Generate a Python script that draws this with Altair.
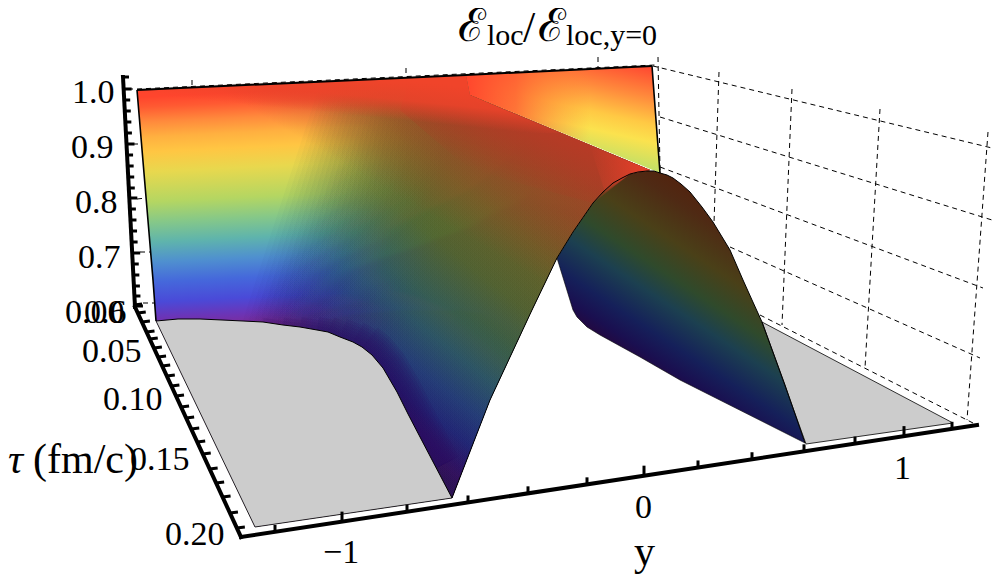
import altair as alt
import pandas as pd

# ---- outlines (picture-plane units) ----
top_edge = [(137, 90), (466, 75), (652, 66)]
left_edge = [(137, 90), (146, 197), (153, 280), (156, 321)]
right_edge = [(652, 66), (656, 120), (660, 173)]
contour_left = [(452, 498), (420, 437), (408, 414), (397, 392), (390, 380), (383, 368), (372, 355), (362, 347),
                (353, 342), (340, 337), (328, 332), (317, 330), (300, 327), (283, 325), (263, 322), (243, 321),
                (222, 320), (200, 319), (178, 319), (156, 321)]
contour_purple = [(436, 468), (420, 437), (408, 414), (397, 392), (390, 380), (383, 368), (372, 355), (362, 347),
                  (353, 342), (340, 337), (328, 332), (317, 330), (300, 327), (283, 325), (263, 322)]
rim_widths = [50, 44, 38, 32, 26, 20, 14, 8]
rim_lengths = [8, 9, 10, 11, 12, 13, 14, 15]
arch_left = [(452, 498), (490, 400), (532, 310), (557, 258)]
arch_top = [(557, 258), (573, 232), (593, 203), (603, 192), (613, 183), (622, 178), (630, 174), (638, 172),
            (647, 171), (654, 171), (660, 173)]
arch_right = [(660, 173), (667, 175), (673, 178), (681, 184), (690, 192), (702, 207), (713, 222), (730, 250),
              (743, 280), (752, 300), (762, 322), (785, 385), (805, 443)]
contour_right = [(805, 443), (680, 380), (640, 357), (600, 335), (587, 327), (577, 317), (573, 310), (557, 258)]
floor_left = [(156, 321), (255, 527), (452, 498)]
floor_right = [(762, 322), (806, 444), (953, 423)]

rainbow_stops = [(0.03, "#ff452d"), (0.07, "#ff5a32"), (0.13, "#ff8a3c"), (0.19, "#ffb040"), (0.25, "#ffc643"),
                 (0.33, "#e8d84e"), (0.45, "#b4d662"), (0.53, "#86c888"), (0.61, "#5fb4ac"), (0.69, "#4f90cf"),
                 (0.77, "#4568db"), (0.85, "#4a4ad8"), (0.91, "#6a35b8"), (0.96, "#7f2a96"), (1.0, "#7f2a90")]
bump_stops = [(0.0, "#2a1058"), (0.03, "#2f1060"), (0.12, "#1f2a78"), (0.2, "#22407a"), (0.3, "#2a5868"), (0.38, "#3a6050"),
              (0.52, "#55652f"), (0.68, "#6a6425"), (0.79, "#7a5c22"), (0.9, "#8a4f20"), (1.0, "#a83d22")]
under_stops = [(0.0, "#24083f"), (0.08, "#1a0f50"), (0.2, "#15205a"), (0.38, "#1c4050"), (0.52, "#2f4a2c"),
               (0.7, "#4a4018"), (0.9, "#4f2a14"), (1.0, "#52240f")]
wedge_stops = [(0.0, "#ff4530"), (0.3, "#ff8a3c"), (0.55, "#ffc944"), (0.72, "#fbe24e"), (1.0, "#bfe068")]

z_ticks_y = [77, 89, 100, 111, 122, 133, 144, 155, 166, 177, 188, 198, 209, 220, 231, 242, 253, 264, 275, 286, 296, 306]
z_major_y = [89, 144, 198, 253, 306]
tau_ticks_y = [305, 313, 322, 332, 339, 348, 357, 366, 376, 386, 396, 407, 418, 429, 442, 454, 469, 483, 497, 513, 528]
y_ticks_x = [275, 342, 407, 468, 528, 587, 644, 698, 752, 804, 855, 904, 952]
y_major_x = [342, 644, 904]

grid_lines = [
    [(653, 66), (992, 148)],
    [(660, 117), (992, 220)],
    [(660, 167), (983, 288)],
    [(730, 247), (980, 358)],
    [(760, 315), (973, 423)],
    [(719, 72), (714, 223)],
    [(792, 89), (782, 325)],
    [(880, 109), (865, 368)],
    [(988, 132), (967, 420)],
    [(658, 57), (660, 170)],
    [(192, 80), (192, 87)],
    [(406, 68), (406, 78)],
    [(598, 57), (598, 68)],
    [(137, 89), (655, 65)],
    [(128, 89), (137, 89)],
    [(133, 144), (143, 144)],
    [(137, 199), (146, 198)],
    [(140, 252), (150, 252)],
    [(143, 303), (154, 303)],
]
axis_lines = [[(123, 77), (135, 307)], [(135, 307), (241, 537)], [(241, 537), (977, 425)]]

serif = "Liberation Serif"
texts = [
    ("1.0", 72, 103, 34, "normal"), ("0.9", 71, 158, 34, "normal"), ("0.8", 75, 213, 34, "normal"),
    ("0.7", 78, 268, 34, "normal"), ("0.00", 65, 323, 34, "normal"), ("0.6", 84, 323, 34, "normal"),
    ("0.05", 82, 362, 34, "normal"), ("0.10", 103, 410, 34, "normal"), ("0.15", 130, 470, 34, "normal"),
    ("0.20", 165, 545, 34, "normal"),
    ("\u22121", 323, 563, 34, "normal"), ("0", 635, 518, 34, "normal"), ("1", 894, 479, 34, "normal"),
    ("\u03c4", 8, 473, 42, "italic"), ("(fm/c)", 33, 473, 42, "normal"), ("y", 634, 565, 42, "normal"),
    ("\u2130", 458, 41, 46, "normal"), ("loc", 487, 45, 30, "normal"), ("/", 523, 42, 44, "normal"),
    ("\u2130", 538, 41, 46, "normal"), ("loc,y=0", 566, 45, 30, "normal"),
]

sx = alt.Scale(domain=[8, 992], nice=False, zero=False)
sy = alt.Scale(domain=[575, 8], nice=False, zero=False)
X = lambda f="x": alt.X(f, type="quantitative", scale=sx, axis=None)
Y = lambda f="y": alt.Y(f, type="quantitative", scale=sy, axis=None)


def grad(points, a, b, stops):
    xs, ys = zip(*points)
    x0, y0 = min(xs), min(ys)
    w, h = max(xs) - x0, max(ys) - y0
    vx, vy = b[0] - a[0], b[1] - a[1]
    gu, gv = vx / h, vy / w
    au, av = (a[0] - x0) / w, (a[1] - y0) / h
    bu, bv = (b[0] - x0) / w, (b[1] - y0) / h
    s = ((bu - au) * gu + (bv - av) * gv) / (gu * gu + gv * gv)
    return alt.LinearGradient(
        gradient="linear", x1=au, y1=av, x2=au + s * gu, y2=av + s * gv,
        stops=[alt.GradientStop(color=c, offset=o) for o, c in stops],
    )


def table(points):
    return pd.DataFrame({"x": [p[0] for p in points], "y": [p[1] for p in points], "i": range(len(points))})


def poly(points, fill, opacity=1.0):
    return alt.Chart(table(points)).mark_line(fill=fill, strokeWidth=0, opacity=opacity).encode(
        x=X(), y=Y(), order=alt.Order("i:Q"))


def path(points, width=1.0, color="black", opacity=1.0):
    return alt.Chart(table(points)).mark_line(stroke=color, strokeWidth=width, opacity=opacity).encode(
        x=X(), y=Y(), order=alt.Order("i:Q"))


def segments(lines, width, dash=None, cap="butt"):
    df = pd.DataFrame([{"x": l[0][0], "y": l[0][1], "x2": l[1][0], "y2": l[1][1]} for l in lines])
    kw = {"strokeDash": dash} if dash else {}
    return alt.Chart(df).mark_rule(color="black", strokeWidth=width, strokeCap=cap, **kw).encode(
        x=X(), y=Y(), x2="x2:Q", y2="y2:Q")


layers = []
# dashed box
layers.append(segments(grid_lines, 1, dash=[5, 4]))

# underside of the arch
under = arch_top + arch_right[1:] + contour_right[1:]
layers.append(poly(under, grad(under, (640, 365), (736, 220), under_stops)))

# yellow wedge behind the ridge
wedge = [(466, 75), (652, 66), (656, 120), (660, 173), (470, 95)]
layers.append(poly(wedge, grad(wedge, (652, 66), (630, 167), wedge_stops)))
layers.append(poly(wedge, grad(wedge, (466, 90), (590, 90),
                               [(0, "rgba(255,70,45,1)"), (0.4, "rgba(255,80,48,0.75)"), (1, "rgba(255,120,50,0)")])))

# main face: bright sheet, shaded towards the ridge
main = [(137, 90), (466, 75), (470, 95), (650, 170)] + arch_top[-3::-1] + arch_left[::-1][1:] + [(255, 527), (156, 321), (153, 280), (146, 197)]
layers.append(poly(main, grad(main, (300, 82), (312, 332), rainbow_stops)))
layers.append(poly(main, grad(main, (240, 330), (395, 422),
                              [(0, "rgba(0,0,0,0)"), (1, "rgba(0,0,0,0.55)")])))
# the ridge sheet fades in across the face in many thin veils
right_of_main = [(470, 95), (650, 170)] + arch_top[-3::-1] + arch_left[::-1][1:]
for k in range(32):
    tx = 320 + k * 4.6
    pts = [(tx, 92 - (tx - 137) * 15 / 329)] + right_of_main + [(230 + k * 6, 360)]
    layers.append(poly(pts, grad(pts, (445, 480), (664, 205), bump_stops), opacity=0.04 + 0.1 * k / 31))
# purple rim along the left foot of the ridge
for w, n in zip(rim_widths, rim_lengths):
    layers.append(path(contour_purple[:n], w, "#2a0f60", 0.14))
# warm brick tone over the upper part of the ridge slope
warm = [(200, 85), (466, 76)] + right_of_main + [(230, 360)]
layers.append(poly(warm, grad(warm, (320, 150), (385, 40),
                              [(0, "rgba(168,63,40,0)"), (1, "rgba(168,63,40,0.85)")])))
# brick-red band under the ridge
cap = [(466, 75), (470, 95), (650, 170), (630, 174), (593, 203), (470, 170), (400, 110), (410, 78)]
layers.append(poly(cap, grad(cap, (560, 133), (533, 195),
                             [(0, "rgba(184,58,38,0.95)"), (1, "rgba(170,60,35,0)")])))
peak = [(590, 146), (650, 170), (630, 174), (605, 192)]
layers.append(poly(peak, grad(peak, (590, 170), (645, 170),
                              [(0, "rgba(232,64,42,0)"), (1, "rgba(232,64,42,0.9)")])))
top_band = [(137, 90), (466, 75), (470, 95), (560, 133), (137, 135)]
layers.append(poly(top_band, grad(top_band, (300, 110), (304, 70),
                                  [(0, "rgba(235,68,42,0)"), (0.5, "rgba(238,68,42,0.85)"), (1, "rgba(240,68,42,1)")])))

# floors (drawn over the feet of the veils)
layers += [poly(contour_left + floor_left[:2], "#cccccc"), poly(floor_right, "#cccccc")]
layers += [path(floor_left, 0.8), path(floor_right + floor_right[:1], 0.8)]

# outlines
layers += [path(top_edge, 2), path(left_edge, 1.6), path(right_edge, 1.6), path(contour_left, 1),
           path(arch_left + arch_top + arch_right, 1), path(contour_right, 0.6)]

# axes
layers.append(segments(axis_lines, 4, cap="square"))
z_seg = [[(123 + (v - 77) * 12 / 230, v), (123 + (v - 77) * 12 / 230 + (8 if v in z_major_y else 6), v)] for v in z_ticks_y]
tau_seg = [[(135 + (v - 307) * 106 / 230, v), (135 + (v - 307) * 106 / 230 + 8, v - 1)] for v in tau_ticks_y]
y_seg = [[(v, 537 - (v - 241) * 112 / 736), (v, 537 - (v - 241) * 112 / 736 - (10 if v in y_major_x else 7))] for v in y_ticks_x]
layers.append(segments(z_seg + tau_seg + y_seg, 3))

# labels
for style in ("normal", "italic"):
    for size in (30, 34, 42, 44, 46):
        rows = [t for t in texts if t[3] == size and t[4] == style]
        if rows:
            df = pd.DataFrame(rows, columns=["t", "x", "y", "s", "st"])
            layers.append(alt.Chart(df).mark_text(
                align="left", baseline="alphabetic", font=serif, fontSize=size, fontStyle=style, color="black"
            ).encode(x=X(), y=Y(), text="t:N"))

chart = alt.layer(*layers).properties(
    width=984, height=567,
    padding=0,
    autosize=alt.AutoSizeParams(type="none"),
).configure_view(strokeWidth=0)

chart.save("out.html", embed_options={"renderer": "svg", "actions": False})
